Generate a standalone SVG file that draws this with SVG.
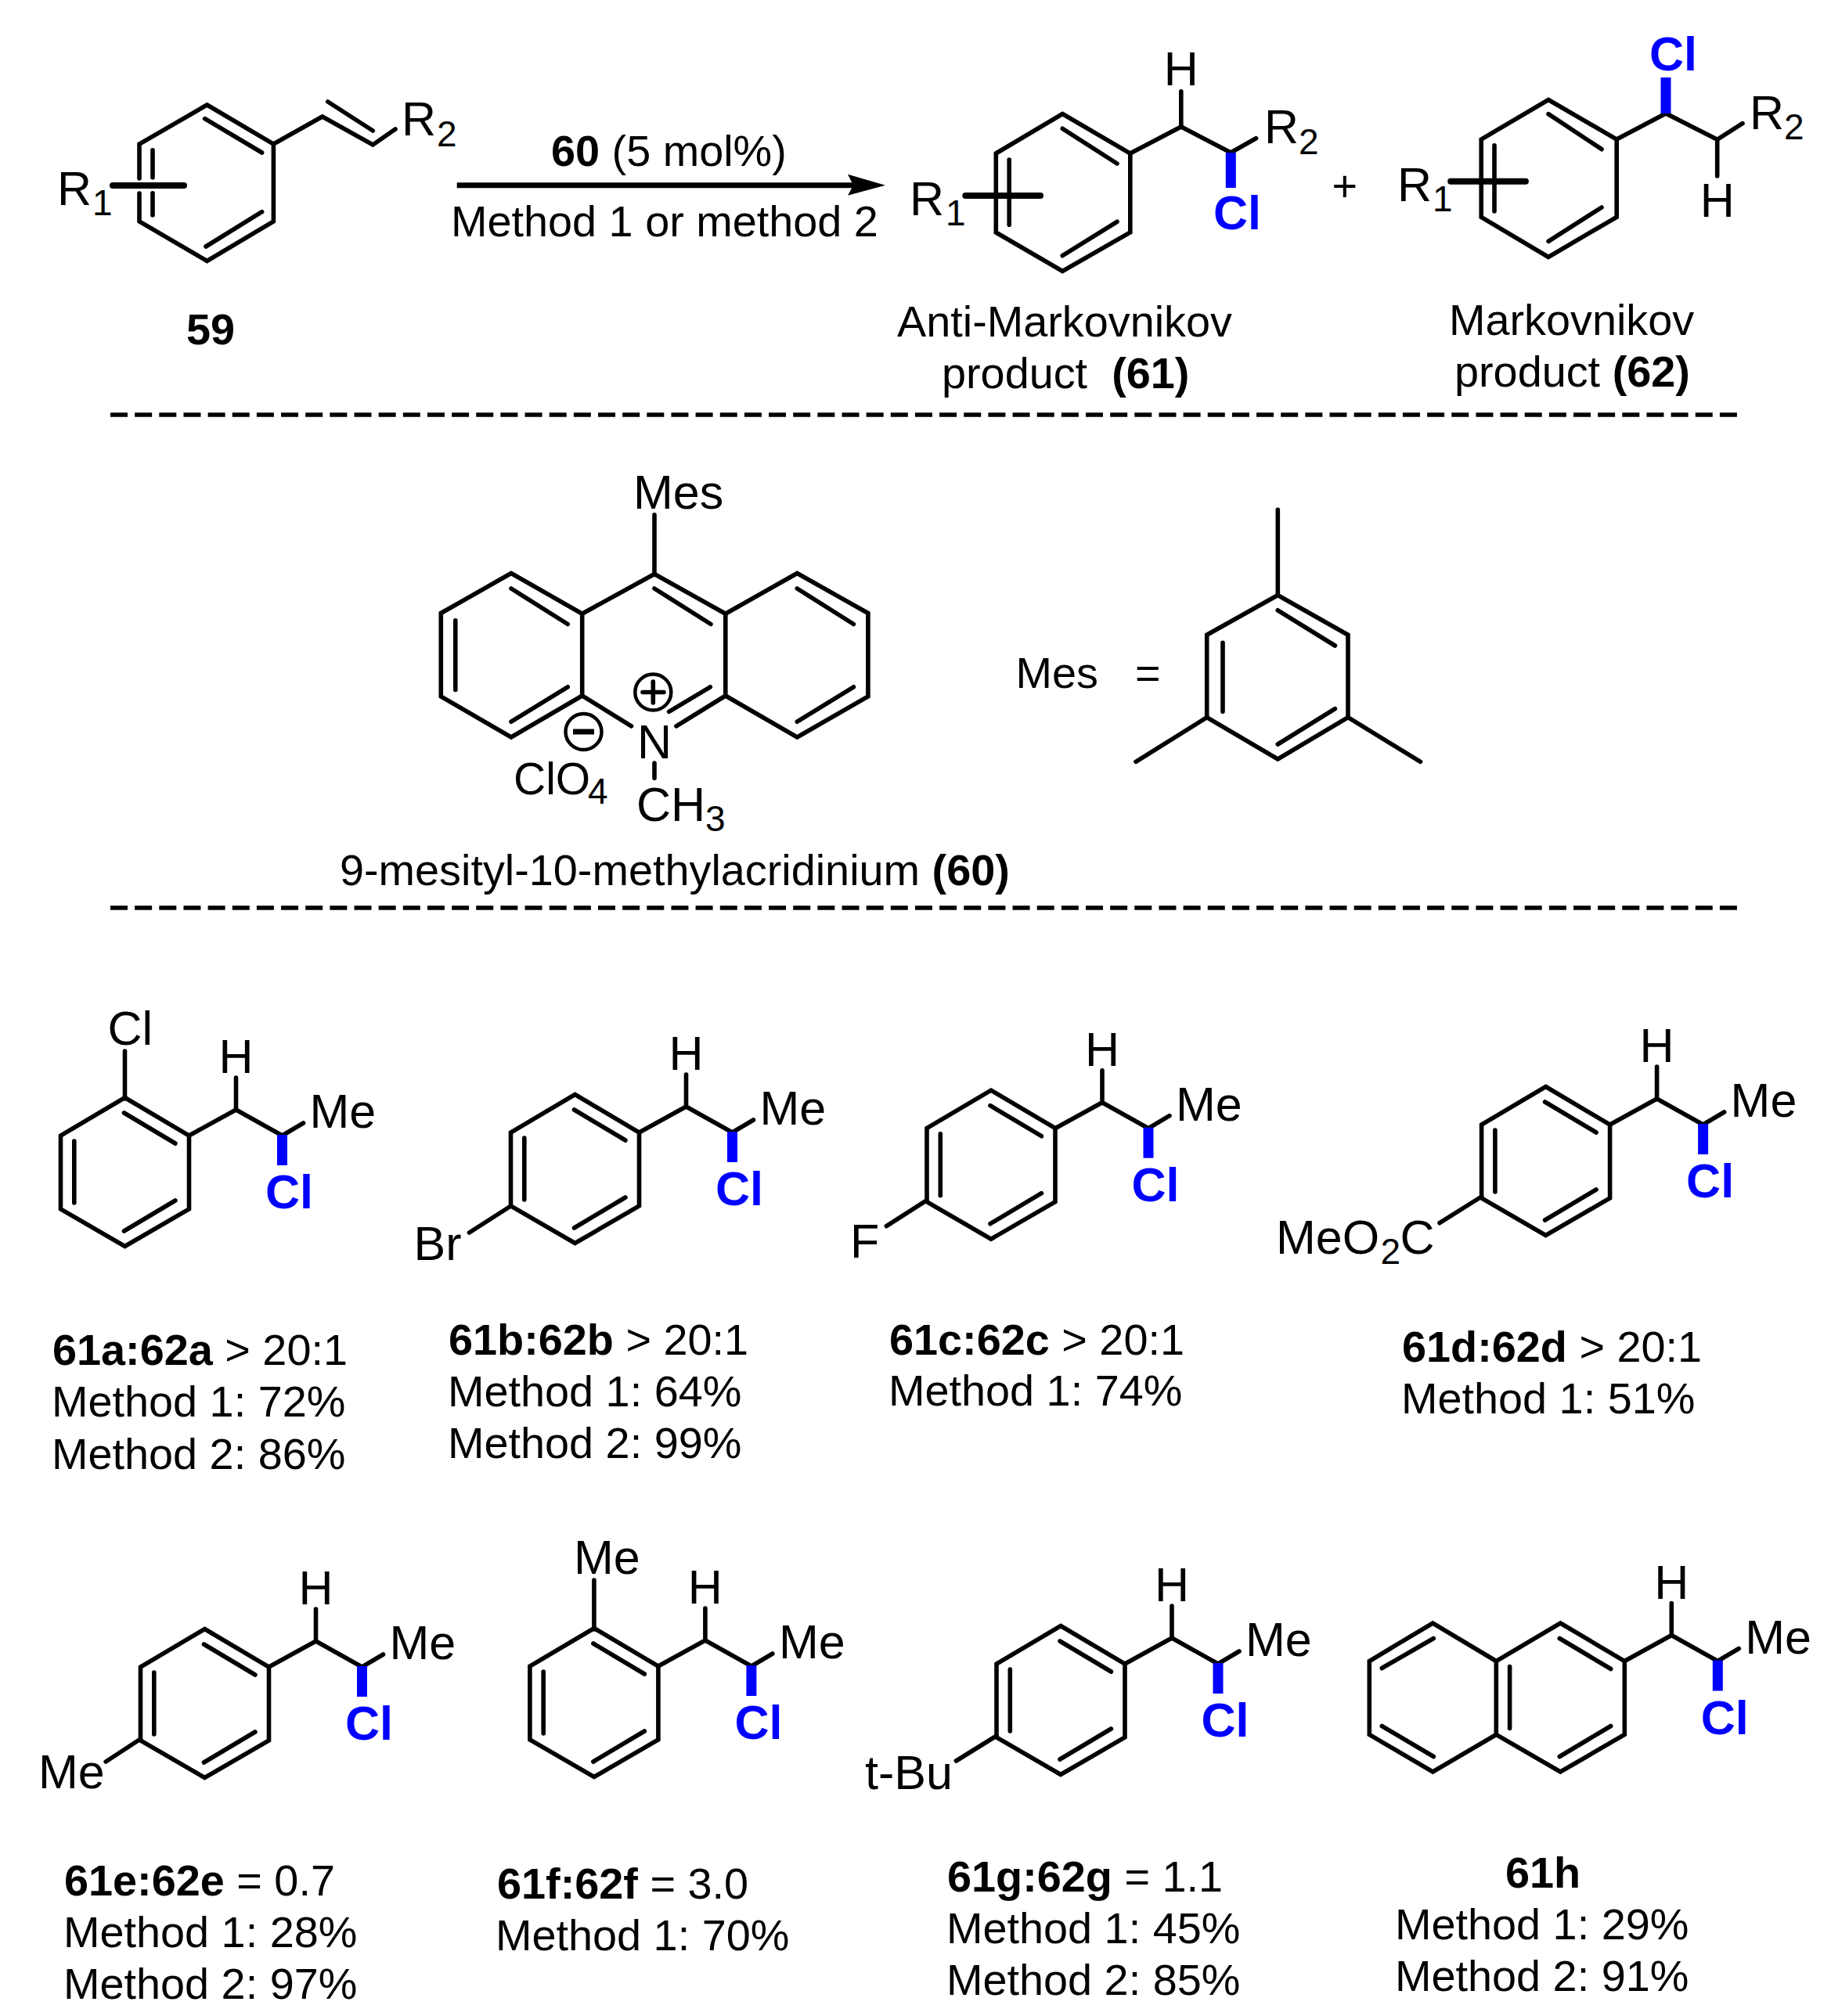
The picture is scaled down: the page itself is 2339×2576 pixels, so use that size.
<svg xmlns="http://www.w3.org/2000/svg" width="2339" height="2576" viewBox="0 0 2339 2576">
<style>
text{font-family:"Liberation Sans",Arial,sans-serif;font-size:55.8px;fill:#000}
.a{font-size:61px}
.s{font-size:46px}
.b{font-weight:bold}
.cl{font-size:61px;font-weight:bold;fill:#0000ff}
.m{text-anchor:middle}
.k{fill:none;stroke:#000;stroke-width:5.6;stroke-linecap:round;stroke-linejoin:miter}
.w{fill:#0000ff;stroke:none}
.bar{fill:none;stroke:#000;stroke-width:8;stroke-linecap:round}
.dash{fill:none;stroke:#000;stroke-width:5.5;stroke-dasharray:22 9.15}
</style>
<defs>
<g id="tail">
<path class="k" d="M0 -1.500L82 47V141L0 188.500L-82 141V47Z"/>
<path class="k" d="M-1 18L64.4 57M-64.7 54V133M-1 169L64.4 130"/>
<path class="k" d="M82 47L142 14L201 47L228 31M142 14V-27"/>
<rect class="w" x="194.5" y="46" width="13" height="39"/>
</g>
</defs>
<rect width="2339" height="2576" fill="#fff"/>

<g id="connectors">
<path d="M583.7 233.2H1090V240.2H583.7Z"/>
<path d="M1083 222.7L1131 236.7L1083 249.7L1090 236.7Z"/>
<path class="dash" d="M141 530H2219"/>
<path class="dash" d="M141 1160H2219"/>
</g>

<g id="arrow-labels">
<text x="704" y="211.7"><tspan class="b">60</tspan> (5 mol%)</text>
<text x="576" y="301.7">Method 1 or method 2</text>
<text class="m" x="1717.7" y="257">+</text>
</g>

<g id="node-59">
<path class="k" d="M264.5 134L349.4 184V283L264.5 333.500L178 283V247M178 228V184L264.5 134"/>
<path class="k" d="M261.7 151.7L334.6 195M195 191.7V226.7M195 246.7V275M263 315L334.6 270.7"/>
<path class="k" d="M349.4 184L411.8 149L476.3 185L505 165M418.8 130L476.3 167"/>
<path class="bar" d="M144 237H235"/>
<text class="a" x="73" y="262">R</text><text class="s" x="118" y="275">1</text>
<text class="a" x="513" y="173.3">R</text><text class="s" x="558" y="186.7">2</text>
<text class="b" x="238" y="440">59</text>
</g>

<g id="node-61">
<path class="k" d="M1357.3 145.500L1443.8 196V297L1357.3 346.500L1272.3 297V196Z"/>
<path class="k" d="M1357.3 164.3L1427 209M1289.2 204V287.3M1427 283.3L1357.3 326.7"/>
<path class="k" d="M1443.8 196L1508.8 162L1572.3 195L1604.5 176.7M1508.8 162V116.7"/>
<rect class="w" x="1565.8" y="195" width="13" height="45"/>
<path class="bar" d="M1233.3 250H1329"/>
<text class="a m" x="1508.8" y="109.3">H</text>
<text class="a" x="1615" y="183.3">R</text><text class="s" x="1659" y="196.7">2</text>
<text class="cl" x="1550" y="293.3">Cl</text>
<text class="a" x="1162" y="275">R</text><text class="s" x="1208" y="288">1</text>
<text x="1146" y="430">Anti-Markovnikov</text>
<text x="1203" y="496" xml:space="preserve">product  <tspan class="b">(61)</tspan></text>
</g>

<g id="node-62">
<path class="k" d="M1978 127.500L2065.2 178V277.3L1978 328.500L1892.2 277.3V178Z"/>
<path class="k" d="M1978 145.7L2046 190.7M1909 185.7V270M2046 265L1978 308.3"/>
<path class="k" d="M2065.2 178L2128 145L2193.7 178.3L2226 157.7M2193.7 178.3V225"/>
<rect class="w" x="2121.5" y="99" width="13" height="46"/>
<path class="bar" d="M1853.2 231.7H1948.9"/>
<text class="cl" x="2107" y="90">Cl</text>
<text class="a" x="2235" y="165">R</text><text class="s" x="2279" y="178.3">2</text>
<text class="a m" x="2193.7" y="277.3">H</text>
<text class="a" x="1785" y="256.7">R</text><text class="s" x="1830" y="270">1</text>
<text x="1851" y="428.3">Markovnikov</text>
<text x="1858" y="494">product <tspan class="b">(62)</tspan></text>
</g>

<g id="node-60">
<path class="k" d="M836 733.500L926.8 784.2V889M836 733.500L743.7 784.2V889L806.5 927.8M926.8 889L863.9 927.8"/>
<path class="k" d="M653 732.500L743.7 784.2M743.7 889L653 942L563.3 890V783.5L653 732.500"/>
<path class="k" d="M1018.3 732.500L926.8 784.2M926.8 889L1018.3 942L1108.9 890V783.5L1018.3 732.500"/>
<path class="k" d="M836 752L908 797.5M653 752L725.2 797.5M581.8 792.7V881.5M725.2 877.8L653 922.2M1018.3 752L1090.4 797.5M1090.4 877.8L1018.3 922.2M907.3 877.8L854.6 909.3"/>
<path class="k" d="M836 657.7V733.500M836 975V994.3"/>
<circle cx="834.3" cy="884.5" r="23" fill="none" stroke="#000" stroke-width="4.5"/>
<path class="k" d="M821 884.5H848M834.3 871V898"/>
<circle cx="745.5" cy="935" r="23" fill="none" stroke="#000" stroke-width="4.5"/>
<path d="M732 931.5H759V938.5H732Z"/>
<text class="a" x="809" y="650.3">Mes</text>
<text class="a" x="814" y="968.5">N</text>
<text class="a" x="813" y="1049">CH</text><text class="s" x="901" y="1062">3</text>
<text x="656" y="1014.7" style="font-size:57px">ClO</text><text class="s" x="751" y="1026.5">4</text>
<text x="434" y="1131">9-mesityl-10-methylacridinium <tspan class="b">(60)</tspan></text>
</g>

<g id="node-mes">
<path class="k" d="M1632.3 760.500L1722 811.2V916.7L1632.3 970L1541.7 916.7V811.2Z"/>
<path class="k" d="M1632.3 779.8L1705.4 825M1562 821.2V909.3M1705.4 905.6L1632.3 951"/>
<path class="k" d="M1632.3 651.4V760.500M1541.7 916.7L1451 973.3M1722 916.7L1814.5 973.3"/>
<text x="1297.5" y="879">Mes</text>
<text x="1450" y="879">=</text>
</g>

<g id="node-61a" transform="translate(159.5 1404)">
<use href="#tail"/>
<path class="k" d="M0 0V-61"/>
<text class="a" x="-22" y="-69">Cl</text>
<text class="a m" x="142" y="-33">H</text>
<text class="a" x="236" y="37">Me</text>
<text class="cl" x="179.5" y="140">Cl</text>
</g>
<g id="label-61a">
<text x="67" y="1744"><tspan class="b">61a:62a</tspan> &gt; 20:1</text>
<text x="66" y="1810.4">Method 1: 72%</text>
<text x="66" y="1876.7">Method 2: 86%</text>
</g>

<g id="node-61b" transform="translate(734.5 1400)">
<use href="#tail"/>
<path class="k" d="M-82 141L-135 175"/>
<text class="a m" x="142" y="-33">H</text>
<text class="a" x="236" y="37">Me</text>
<text class="cl" x="179.5" y="140">Cl</text>
<text class="a" x="-206" y="210">Br</text>
</g>
<g id="label-61b">
<text x="573" y="1730.8"><tspan class="b">61b:62b</tspan> &gt; 20:1</text>
<text x="572" y="1796.7">Method 1: 64%</text>
<text x="572" y="1862.6">Method 2: 99%</text>
</g>

<g id="node-61c" transform="translate(1266 1394.7)">
<use href="#tail"/>
<path class="k" d="M-82 139L-133.600 172"/>
<text class="a m" x="142" y="-33">H</text>
<text class="a" x="236" y="37">Me</text>
<text class="cl" x="179.5" y="140">Cl</text>
<text class="a" x="-180" y="212.600">F</text>
</g>
<g id="label-61c">
<text x="1136" y="1730.7"><tspan class="b">61c:62c</tspan> &gt; 20:1</text>
<text x="1135" y="1796">Method 1: 74%</text>
</g>

<g id="node-61d" transform="translate(1974.6 1390)">
<use href="#tail"/>
<path class="k" d="M-82 139L-135.600 172.700"/>
<text class="a m" x="142" y="-33">H</text>
<text class="a" x="236" y="37">Me</text>
<text class="cl" x="179.5" y="140">Cl</text>
<text class="a" x="-344.600" y="212.300">MeO</text><text class="s" x="-211" y="225">2</text><text class="a" x="-186" y="212.300">C</text>
</g>
<g id="label-61d">
<text x="1791" y="1740"><tspan class="b">61d:62d</tspan> &gt; 20:1</text>
<text x="1790" y="1806">Method 1: 51%</text>
</g>

<g id="node-61e" transform="translate(261.5 2083)">
<use href="#tail"/>
<path class="k" d="M-82 139L-126.300 168"/>
<text class="a m" x="142" y="-33">H</text>
<text class="a" x="236" y="37">Me</text>
<text class="cl" x="179.5" y="140">Cl</text>
<text class="a" x="-212.500" y="201.500">Me</text>
</g>
<g id="label-61e">
<text x="82" y="2421.7"><tspan class="b">61e:62e</tspan> = 0.7</text>
<text x="81" y="2487.7">Method 1: 28%</text>
<text x="81" y="2554">Method 2: 97%</text>
</g>

<g id="node-61f" transform="translate(758.900 2082)">
<use href="#tail"/>
<path class="k" d="M0 0V-63"/>
<text class="a" x="-26" y="-71">Me</text>
<text class="a m" x="142" y="-33">H</text>
<text class="a" x="236" y="37">Me</text>
<text class="cl" x="179.5" y="140">Cl</text>
</g>
<g id="label-61f">
<text x="635" y="2426"><tspan class="b">61f:62f</tspan> = 3.0</text>
<text x="633" y="2492.3">Method 1: 70%</text>
</g>

<g id="node-61g" transform="translate(1355 2079)">
<use href="#tail"/>
<path class="k" d="M-82 139L-133.600 171"/>
<text class="a m" x="142" y="-33">H</text>
<text class="a" x="236" y="37">Me</text>
<text class="cl" x="179.5" y="140">Cl</text>
<text class="a" x="-250" y="207">t-Bu</text>
</g>
<g id="label-61g">
<text x="1210" y="2417.3"><tspan class="b">61g:62g</tspan> = 1.1</text>
<text x="1209" y="2483.3">Method 1: 45%</text>
<text x="1209" y="2549.3">Method 2: 85%</text>
</g>

<g id="node-61h" transform="translate(1993.300 2075.500)">
<use href="#tail"/>
<path class="k" d="M-82 47L-163 -1.500L-244 47V141L-163 188.500L-82 141"/>
<path class="k" d="M-162 18L-228 56M-228 130L-162 169"/>
<text class="a m" x="142" y="-33">H</text>
<text class="a" x="236" y="37">Me</text>
<text class="cl" x="179.5" y="140">Cl</text>
</g>
<g id="label-61h">
<text class="b" x="1923" y="2411.7">61h</text>
<text x="1782" y="2478.3">Method 1: 29%</text>
<text x="1782" y="2544.3">Method 2: 91%</text>
</g>
</svg>
